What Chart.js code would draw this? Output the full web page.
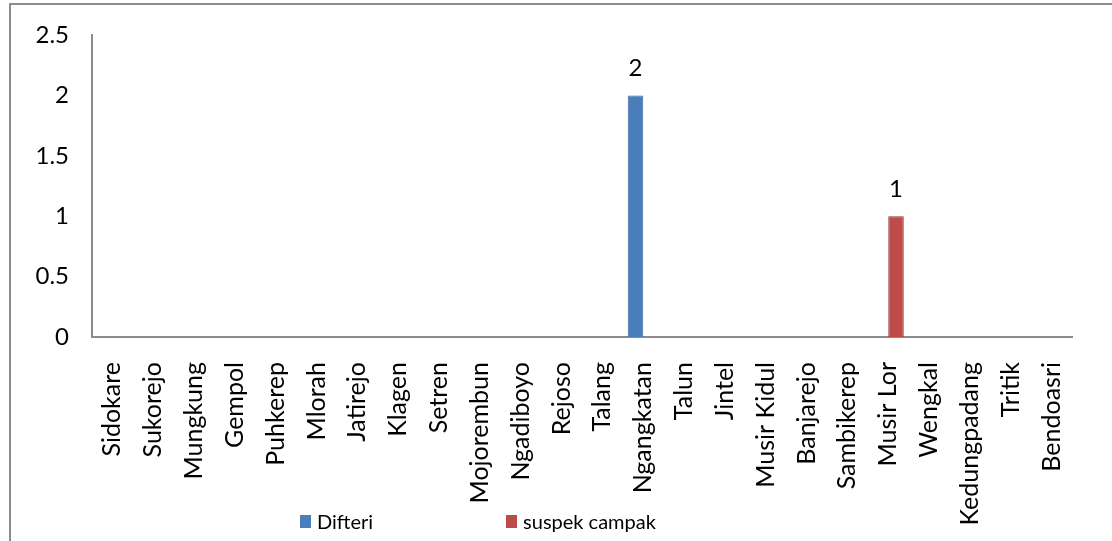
<!DOCTYPE html>
<html>
<head>
<meta charset="utf-8">
<script src="https://cdn.jsdelivr.net/npm/chart.js@4/dist/chart.umd.min.js"></script>
<style>
  html, body { margin: 0; padding: 0; background: #fff; overflow: hidden; }
  #frame { position: absolute; left: 9px; top: 3px; width: 1200px; height: 600px;
           border-left: 2px solid #8c8c8c; border-top: 2px solid #8c8c8c; }
  #wrap { position: absolute; left: 0; top: 0; width: 1112px; height: 541px; }
  #legend { position: absolute; top: 509px; left: 300px; font-family: Lato, sans-serif;
            font-size: 20px; color: #000; display: flex; }
  .item { display: flex; align-items: center; }
  .box { width: 11px; height: 13px; margin-right: 6px; }
</style>
</head>
<body>
<div id="frame"></div>
<div id="wrap"><canvas id="c" width="1112" height="541"></canvas></div>
<div id="legend"></div>
<script>
/* ─── Data ─────────────────────────────────────── */

const CATEGORIES = ['Sidokare', 'Sukorejo', 'Mungkung', 'Gempol', 'Puhkerep', 'Mlorah',
  'Jatirejo', 'Klagen', 'Setren', 'Mojorembun', 'Ngadiboyo', 'Rejoso', 'Talang',
  'Ngangkatan', 'Talun', 'Jintel', 'Musir Kidul', 'Banjarejo', 'Sambikerep',
  'Musir Lor', 'Wengkal', 'Kedungpadang', 'Tritik', 'Bendoasri'];

const DIFTERI = [0, 0, 0, 0, 0, 0, 0, 0, 0, 0, 0, 0, 0, 2, 0, 0, 0, 0, 0, 0, 0, 0, 0, 0];
const SUSPEK_CAMPAK = [0, 0, 0, 0, 0, 0, 0, 0, 0, 0, 0, 0, 0, 0, 0, 0, 0, 0, 0, 1, 0, 0, 0, 0];

const SERIES_NAMES = ['Difteri', 'suspek campak'];
const Y_TICKS = [0, 0.5, 1, 1.5, 2, 2.5];

const COLORS = {
  blue: '#4a7ebb', blueEdge: '#3a6aa5',
  red: '#be4b48', redEdge: '#963532',
  axis: '#8c8c8c',
};

const FONT = 'Lato';

/* ─── Value labels above bars ─────────────────── */

const valueLabels = {
  id: 'valueLabels',
  afterDatasetsDraw(chart) {
    const ctx = chart.ctx;
    ctx.save();
    ctx.fillStyle = '#000';
    ctx.font = `24px ${FONT}`;
    ctx.textAlign = 'center';
    ctx.textBaseline = 'middle';
    chart.data.datasets.forEach((ds, i) => {
      chart.getDatasetMeta(i).data.forEach((bar, j) => {
        if (ds.data[j] > 0) ctx.fillText(String(ds.data[j]), bar.x, bar.y - 27);
      });
    });
    ctx.restore();
  }
};

const chart = new Chart(document.getElementById('c'), {
  type: 'bar',
  data: {
    labels: CATEGORIES,
    datasets: [
      { label: SERIES_NAMES[0], data: DIFTERI,
        backgroundColor: COLORS.blue, borderColor: COLORS.blueEdge, borderWidth: 1 },
      { label: SERIES_NAMES[1], data: SUSPEK_CAMPAK,
        backgroundColor: COLORS.red, borderColor: COLORS.redEdge, borderWidth: 1 },
    ]
  },
  options: {
    responsive: false, animation: false,
    categoryPercentage: 0.76, barPercentage: 1,
    layout: { padding: { left: 0, top: 35, right: 40, bottom: 0 } },
    plugins: { legend: { display: false }, tooltip: { enabled: false } },
    scales: {
      x: {
        grid: { display: false },
        border: { display: true, color: COLORS.axis, width: 2 },
        ticks: { color: '#000', font: { family: FONT, size: 25 }, maxRotation: 90, minRotation: 90,
                 autoSkip: false, padding: 17 },
        afterFit: s => { s.height = 204; },
      },
      y: {
        min: 0, max: 2.5,
        grid: { display: false },
        border: { display: true, color: COLORS.axis, width: 2 },
        afterBuildTicks: s => { s.ticks = Y_TICKS.map(v => ({ value: v })); },
        ticks: { color: '#000', font: { family: FONT, size: 24 }, padding: 15, callback: v => String(v) },
        afterFit: s => { s.width = 92; },
      }
    }
  },
  plugins: [valueLabels],
});

/* ─── Legend ──────────────────────────────────── */

const legend = document.getElementById('legend');
chart.data.datasets.forEach((ds, i) => {
  const item = document.createElement('div');
  item.className = 'item';
  if (i > 0) item.style.marginLeft = '133px';
  const box = document.createElement('span');
  box.className = 'box';
  box.style.background = ds.backgroundColor;
  const txt = document.createElement('span');
  txt.textContent = ds.label;
  item.append(box, txt);
  legend.append(item);
});
</script>
</body>
</html>
